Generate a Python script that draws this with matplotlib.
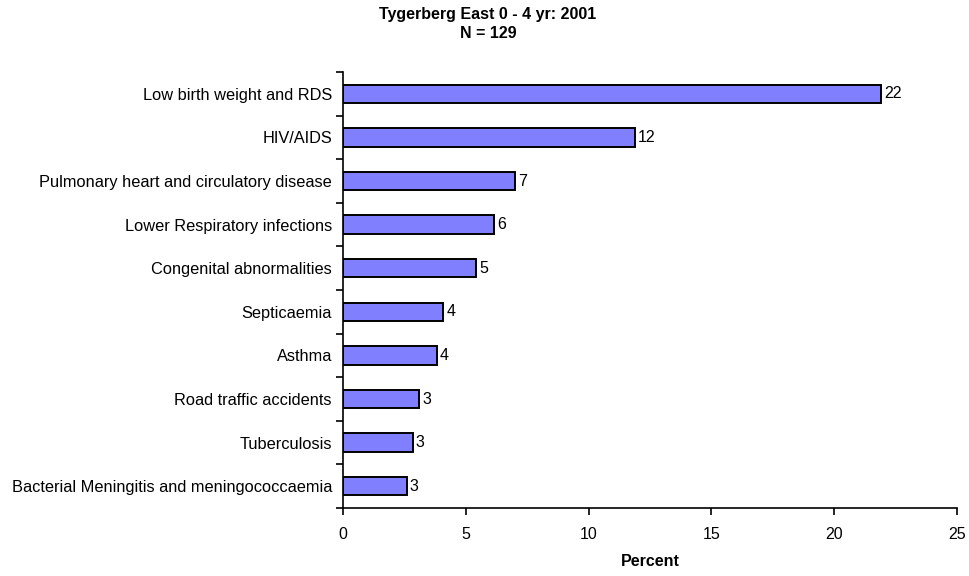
import numpy as np
import matplotlib.pyplot as plt

plt.rcParams['font.family'] = ['Liberation Sans', 'DejaVu Sans']

# datos (porcentaje, N = 129)
causas = ["Low birth weight and RDS", "HIV/AIDS", "Pulmonary heart and circulatory disease",
          "Lower Respiratory infections", "Congenital abnormalities", "Septicaemia",
          "Asthma", "Road traffic accidents", "Tuberculosis",
          "Bacterial Meningitis and meningococcaemia"]
porcentaje = [21.9, 11.9, 7.0, 6.15, 5.42, 4.09, 3.83, 3.1, 2.85, 2.6]
etiquetas = ["22", "12", "7", "6", "5", "4", "4", "3", "3", "3"]

fs = 11.5
fig = plt.figure(figsize=(9.69, 5.76), dpi=100)
ax = fig.add_axes([343/969, 1-508/576, (957-343)/969, (508-72)/576])

pos = np.arange(len(causas)) + 0.5
ax.barh(pos, porcentaje, height=0.42, color='#8080FF', edgecolor='black', linewidth=1.4)
for p, v, t in zip(pos, porcentaje, etiquetas):
    ax.text(v + 0.12, p, t, va='center', ha='left', fontsize=fs)

ax.set_ylim(len(causas), 0)
ax.set_xlim(0, 25)
ax.set_xticks(range(0, 26, 5))
ax.set_yticks(pos)
ax.set_yticklabels(causas, fontsize=11.8)
ax.set_yticks(np.arange(len(causas) + 1), minor=True)
ax.tick_params(axis='y', which='major', length=0, pad=8)
ax.tick_params(axis='y', which='minor', length=5, width=1.2, direction='out')
ax.tick_params(axis='x', length=5, width=1.2, direction='out', pad=9, labelsize=fs)

for s in ['top', 'right']:
    ax.spines[s].set_visible(False)
for s in ['left', 'bottom']:
    ax.spines[s].set_linewidth(1.2)

ax.set_xlabel("Percent", fontsize=fs, fontweight='bold', labelpad=8)
fig.text(488/969, 1 - 15/576, "Tygerberg East 0 - 4 yr: 2001", ha='center', va='center',
         fontsize=fs, fontweight='bold')
fig.text(488/969, 1 - 34/576, "N = 129", ha='center', va='center',
         fontsize=fs, fontweight='bold')

plt.savefig('out.png', dpi=100)
